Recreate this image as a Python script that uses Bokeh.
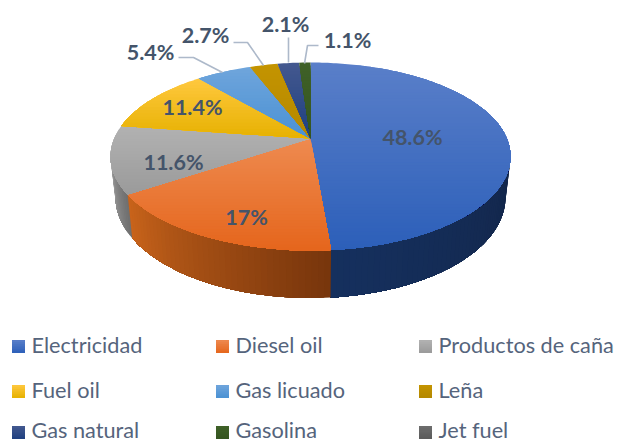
import math
from bokeh.embed import file_html
from bokeh.models import Range1d
from bokeh.plotting import figure
from bokeh.resources import INLINE
from bokeh.core.properties import value

# ---- data ----
CATEGORIES = ["Electricidad", "Diesel oil", "Productos de caña", "Fuel oil", "Gas licuado",
              "Leña", "Gas natural", "Gasolina", "Jet fuel"]
SHARES = [48.6, 17, 11.6, 11.4, 5.4, 2.7, 2.1, 1.1, 0]

# ---- styles ----
TOP_COLORS = [("#5A7FC9", "#2C5FB9"), ("#EE8A50", "#E5661C"), ("#B2B2B2", "#9A9A9A"),
              ("#FFC83F", "#E6B100"), ("#6FA5DC", "#4A91D3"), ("#C49400", "#B48800"),
              ("#44598F", "#1E3F80"), ("#3F6128", "#355520"), ("#6E6E6E", "#5A5A5A")]
WALL_COLORS = [("#13264A", "#15305E"), ("#77350C", "#C9641B"), ("#6E6E6E", "#A0A0A0")]
TEXT_COLOR = "#44546A"
LEGEND_COLOR = "#55647C"
LEADER_COLOR = "#ADB9CA"

# ---- layout, in page pixels ----
LABEL_POS = [(412, 136), (246, 216), (173, 161), (192, 106), (150, 51), (205, 34), (285, 23), (347, 39)]
LEADERS = [None, None, None, None,
           [(178, 57), (193, 57), (222, 72)],
           [(233, 42), (247, 42), (263, 65)],
           [(288, 37), (288, 62)],
           [(318, 45), (307, 45), (304, 63)]]
LEG_SQUARE_X = [18, 222, 425]
LEG_TEXT_X = [31, 235, 438]
LEG_SQUARE_Y = [346, 391, 432]
LEG_TEXT_Y = [344, 389, 429]
LEG_SIDE = 13

CX, E = 310, 0.1915
TOP = dict(y0=138.0, a=196.3, b=90.55)
BOT = dict(y0=177.7, a=191.4, b=96.9)


def disc(theta, face, r=1.0):
    u, v = r * math.sin(theta), r * math.cos(theta)
    w = 1 + E * v
    return CX + face["a"] * u / w, face["y0"] - face["b"] * v / w


def hexrgb(c):
    return tuple(int(c[i:i + 2], 16) for i in (1, 3, 5))


def lerp(c1, c2, t):
    a, b = hexrgb(c1), hexrgb(c2)
    t = max(0.0, min(1.0, t))
    return "#%02x%02x%02x" % tuple(round(a[i] + (b[i] - a[i]) * t) for i in range(3))


def clip_halfplane(poly, y, keep_below):
    out = []
    inside = (lambda q: q[1] >= y) if keep_below else (lambda q: q[1] <= y)
    for i, cur in enumerate(poly):
        prev = poly[i - 1]
        if inside(cur) != inside(prev):
            t = (y - prev[1]) / (cur[1] - prev[1])
            out.append((prev[0] + (cur[0] - prev[0]) * t, y))
        if inside(cur):
            out.append(cur)
    return out


def gradient_bands(poly, c1, c2, step=3.0):
    # every band reaches to the bottom of the shape, so later bands paint over it and no seams show
    ys = [q[1] for q in poly]
    lo, hi = min(ys), max(ys)
    n = max(1, int((hi - lo) / step))
    res = []
    for k in range(n):
        y1 = lo + (hi - lo) * k / n
        part = clip_halfplane(poly, y1, True)
        if len(part) >= 3:
            res.append((part, lerp(c1, c2, (k + 0.5) / n)))
    return res


p = figure(width=618, height=442, output_backend="svg", toolbar_location=None,
           x_range=Range1d(0, 618), y_range=Range1d(442, 0),
           min_border=0, outline_line_color=None, margin=(0, 0, 0, 0))
p.axis.visible = False
p.grid.visible = False

xs, ys, cols = [], [], []


def add(poly, color):
    xs.append([q[0] for q in poly])
    ys.append([q[1] for q in poly])
    cols.append(color)


edges = [0.0]
for s in SHARES:
    edges.append(edges[-1] + s / sum(SHARES) * 2 * math.pi)

wall_start = math.acos(-E)
wall_end = 2 * math.pi - wall_start
wall_idx = 0
for i, s in enumerate(SHARES):
    t0, t1 = max(edges[i], wall_start), min(edges[i + 1], wall_end)
    if s == 0 or t1 <= t0:
        continue
    c1, c2 = WALL_COLORS[wall_idx]
    wall_idx += 1
    n = max(2, int((t1 - t0) / math.radians(1.5)))
    for k in range(n):
        # every strip runs on to the slice's end; the next strip paints over it
        arc = [t0 + (t1 - t0) * j / n for j in range(k, n + 1)]
        add([disc(a, TOP) for a in arc] + [disc(a, BOT) for a in reversed(arc)], lerp(c1, c2, (k + 0.5) / n))

for i, s in enumerate(SHARES):
    if s == 0:
        continue
    n = max(3, int((edges[i + 1] - edges[i]) / math.radians(1.0)))
    wedge = [disc(0, TOP, 0.0)] + [disc(edges[i] + (edges[i + 1] - edges[i]) * k / n, TOP) for k in range(n + 1)]
    for part, col in gradient_bands(wedge, *TOP_COLORS[i]):
        add(part, col)

names, leg_x, leg_y = [], [], []
for i, name in enumerate(CATEGORIES):
    r, c = divmod(i, 3)
    sx, sy = LEG_SQUARE_X[c], LEG_SQUARE_Y[r]
    h = LEG_SIDE / 2
    square = [(sx - h, sy - h), (sx + h, sy - h), (sx + h, sy + h), (sx - h, sy + h)]
    for part, col in gradient_bands(square, *TOP_COLORS[i], step=2):
        add(part, col)
    names.append(name)
    leg_x.append(LEG_TEXT_X[c])
    leg_y.append(LEG_TEXT_Y[r])

p.patches(xs, ys, fill_color=cols, line_color=None)

for pts in LEADERS:
    if pts:
        p.line([q[0] for q in pts], [q[1] for q in pts], line_color=LEADER_COLOR, line_width=1.6)

labels = [f"{s:g}%" for s in SHARES if s > 0]
p.text([q[0] for q in LABEL_POS], [q[1] for q in LABEL_POS], text=labels,
       text_font=value("Lato"), text_font_style="bold", text_font_size="21.5px",
       text_color=TEXT_COLOR, text_align="center", text_baseline="middle")
p.text(leg_x, leg_y, text=names, text_font=value("Lato"), text_font_size="21.7px",
       text_color=LEGEND_COLOR, text_align="left", text_baseline="middle")

open("out.html", "w").write(file_html(p, INLINE))
